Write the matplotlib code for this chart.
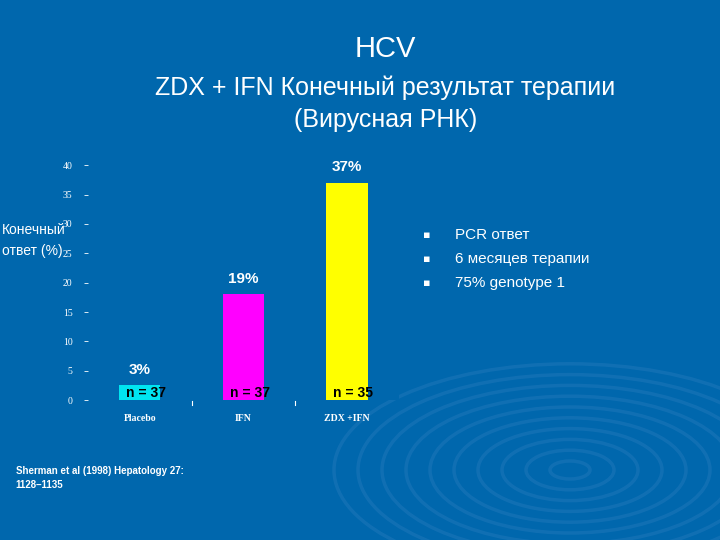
import matplotlib
matplotlib.use("Agg")
import matplotlib.pyplot as plt
from matplotlib.patches import Ellipse

categories = ["Placebo", "IFN", "ZDX +IFN"]
values = [2.5, 18, 37]
pct_labels = ["3%", "19%", "37%"]
n_labels = ["n = 37", "n = 37", "n = 35"]
colors = ["#00e5f0", "#ff00ff", "#ffff00"]
bullets = ["PCR ответ", "6 месяцев терапии", "75% genotype 1"]

BG = "#0067ad"
fig = plt.figure(figsize=(7.2, 5.4), dpi=100, facecolor=BG)

# faint ripples in lower right
bg = fig.add_axes([0, 0, 1, 1], zorder=-1)
bg.set_xlim(0, 720); bg.set_ylim(540, 0); bg.axis("off")
for r in range(20, 240, 24):
    bg.add_patch(Ellipse((570, 470), r * 2, r * 0.9, fill=False, ec="#2f80c0", lw=2.5, alpha=0.35))

fig.text(0.535, 0.895, "HCV", color="white", fontsize=21, ha="center", family="Liberation Sans")
fig.text(0.535, 0.825, "ZDX + IFN Конечный результат терапии", color="white", fontsize=18,
         ha="center", family="Liberation Sans")
fig.text(0.535, 0.765, "(Вирусная РНК)", color="white", fontsize=18, ha="center", family="Liberation Sans")

ax = fig.add_axes([0.122, 0.259, 0.432, 0.435])
ax.set_facecolor(BG)
x = range(len(categories))
bars = ax.bar(x, values, width=0.4, color=colors)
for i, b in enumerate(bars):
    h = b.get_height()
    ax.text(b.get_x() + b.get_width() / 2, h + 1.5, pct_labels[i], ha="center", va="bottom",
            color="white", fontsize=11, fontweight="bold", family="Liberation Sans")
    ax.text(b.get_x() + b.get_width() / 2 + 0.06, 0.1, n_labels[i], ha="center", va="bottom",
            color="black", fontsize=10, fontweight="bold", family="Liberation Sans")
ax.set_xlim(-0.5, 2.5)
ax.set_ylim(0, 40)
ax.set_yticks(range(0, 45, 5))
ax.set_yticklabels([str(v) for v in range(0, 45, 5)], family="Liberation Serif", fontsize=7, color="white")
ax.set_xticks(list(x))
ax.set_xticklabels(categories, family="Liberation Serif", fontsize=7, color="white", fontweight="bold")
ax.tick_params(axis="x", length=0, pad=10)
ax.tick_params(axis="y", colors="white", length=3, width=0.6, pad=8)
for s in ax.spines.values():
    s.set_visible(False)
for xm in (0.5, 1.5):
    ax.plot([xm, xm], [-0.8, -0.2], color="white", lw=0.8, clip_on=False)

fig.text(0.003, 0.555, "Конечный\nответ (%)", color="white", fontsize=10, ha="left",
         va="center", family="Liberation Sans", linespacing=1.6, zorder=5)

for i, t in enumerate(bullets):
    y = 0.565 - i * 0.045
    fig.text(0.588, y, "▪", color="white", fontsize=8, va="center")
    fig.text(0.632, y, t, color="white", fontsize=11, va="center", family="Liberation Sans")

fig.text(0.022, 0.115, "Sherman et al (1998) Hepatology 27:\n1128–1135", color="white", fontsize=7,
         fontweight="bold", family="Liberation Sans", va="center", linespacing=1.4)

fig.savefig("out.png", dpi=100, facecolor=BG)
